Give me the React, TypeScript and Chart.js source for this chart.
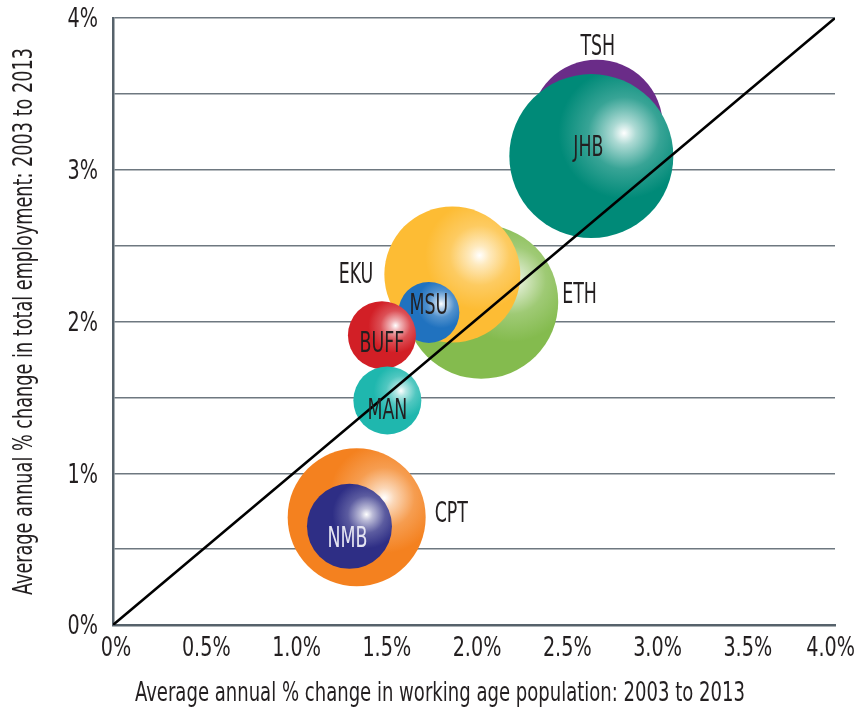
import React, { useEffect, useRef } from 'react';
import { Chart, registerables } from 'chart.js';

Chart.register(...registerables);

// ---- data ----
const cities = ['TSH', 'JHB', 'ETH', 'EKU', 'MSU', 'BUFF', 'MAN', 'CPT', 'NMB'];
const popGrowth = [2.68, 2.65, 2.04, 1.88, 1.75, 1.49, 1.52, 1.35, 1.31];
const empGrowth = [3.29, 3.09, 2.13, 2.31, 2.06, 1.91, 1.48, 0.71, 0.65];
const bubbleRadius = [66, 82, 77, 68, 30.5, 34, 34, 69, 42.5];
const parityX = [0, 4];
const parityY = [0, 4];
const xTickLabels = ['0%', '0.5%', '1.0%', '1.5%', '2.0%', '2.5%', '3.0%', '3.5%', '4.0%'];
const yTickLabels = ['0%', '', '1%', '', '2%', '', '3%', '', '4%'];

const xTitle = 'Average annual % change in working age population: 2003 to 2013';
const yTitle = 'Average annual % change in total employment: 2003 to 2013';

// ---- styles ----
const bubbleColors = ['#6a2c88', '#008a78', '#84bb4e', '#fdbc34', '#2072bf', '#d21f26', '#1fb7ae', '#f4811f', '#2e2e85'];
const bubbleHighlight = [false, true, true, true, true, true, true, true, true];
const labelColors = ['#231f20', '#231f20', '#231f20', '#231f20', '#231f20', '#231f20', '#231f20', '#231f20', '#e4e4f2'];
// placement: mode, dx, dy (cap-centre offset)
const labelPlacement: [string, number, number][] = [
  ['above', 1, -15],
  ['center', -3, -10],
  ['right', 4, -9],
  ['left', -11, -2],
  ['center', 0, -9],
  ['center', 0, 7],
  ['center', 0, 8],
  ['right', 9, -5],
  ['center', -2, 10],
];

const FONT = "'DejaVu Sans Condensed', 'Liberation Sans Narrow', sans-serif";
const TEXT = '#231f20';
const GRID = '#6e7880';
const AXIS = '#56626b';

function hexToRgb(h: string) {
  const n = parseInt(h.slice(1), 16);
  return [(n >> 16) & 255, (n >> 8) & 255, n & 255];
}
function mix(h: string, t: number) {
  const [r, g, b] = hexToRgb(h);
  const m = (c: number) => Math.round(c + (255 - c) * t);
  return `rgb(${m(r)},${m(g)},${m(b)})`;
}

function drawCondensed(ctx: any, text: string, left: number, baseline: number, sx: number) {
  ctx.save();
  ctx.translate(left, baseline);
  ctx.scale(sx, 1);
  ctx.textAlign = 'left';
  ctx.fillText(text, 0, 0);
  ctx.restore();
}

const labelPlugin = {
  id: 'bubbleLabels',
  afterDatasetsDraw(chart: any) {
    const meta = chart.getDatasetMeta(1);
    const ctx = chart.ctx;
    const fs = 28;
    const sx = 0.69;
    const cap = fs * 0.729;
    ctx.save();
    ctx.font = `${fs}px ${FONT}`;
    ctx.textBaseline = 'alphabetic';
    meta.data.forEach((el: any, i: number) => {
      const r = el.options.radius;
      const [mode, dx, dy] = labelPlacement[i];
      const text = cities[i];
      const w = ctx.measureText(text).width * sx;
      let y = el.y + dy;
      if (mode === 'above') y = el.y - r + dy;
      let left = el.x + dx - w / 2;
      if (mode === 'left') left = el.x - r + dx - w;
      if (mode === 'right') left = el.x + r + dx;
      ctx.fillStyle = labelColors[i];
      drawCondensed(ctx, text, left, y + cap / 2, sx);
    });
    ctx.restore();
  },
};

const axisTextPlugin = {
  id: 'axisText',
  afterDraw(chart: any) {
    const ctx = chart.ctx;
    const fs = 26;
    const cap = fs * 0.729;
    const sx = 0.82;
    const xs = chart.scales.x;
    const ys = chart.scales.y;
    const ca = chart.chartArea;
    ctx.save();
    ctx.font = `${fs}px ${FONT}`;
    ctx.fillStyle = TEXT;
    ctx.textBaseline = 'alphabetic';
    // tick labels
    xs.ticks.forEach((t: any, i: number) => {
      const label = xTickLabels[i] || '';
      const px = xs.getPixelForValue(t.value);
      const w = ctx.measureText(label).width * sx;
      let left = px - w / 2 + 3;
      if (left + w > chart.width - 4) left = chart.width - 4 - w;
      drawCondensed(ctx, label, left, ca.bottom + 22 + cap / 2, sx);
    });
    ys.ticks.forEach((t: any, i: number) => {
      const label = yTickLabels[i] || '';
      if (!label) return;
      const py = ys.getPixelForValue(t.value);
      const w = ctx.measureText(label).width * sx;
      drawCondensed(ctx, label, ca.left - 15 - w, py + cap / 2, sx);
    });
    // x title
    const wx = ctx.measureText(xTitle).width;
    const targetX = 610;
    drawCondensed(ctx, xTitle, 440 - targetX / 2, 692 + cap / 2, targetX / wx);
    // y title
    const wy = ctx.measureText(yTitle).width;
    const targetY = 547;
    const cy = (ca.top + ca.bottom) / 2;
    ctx.save();
    ctx.translate(23 + cap / 2, cy + targetY / 2);
    ctx.rotate(-Math.PI / 2);
    ctx.scale(targetY / wy, 1);
    ctx.fillText(yTitle, 0, 0);
    ctx.restore();
    ctx.restore();
  },
};

export default function App() {
  const ref = useRef<HTMLCanvasElement>(null);
  useEffect(() => {
    if (!ref.current) return;
    const bubbleData = cities.map((_, i) => ({ x: popGrowth[i], y: empGrowth[i], r: bubbleRadius[i] }));
    const lineData = parityX.map((x, i) => ({ x, y: parityY[i] }));
    const chart = new Chart(ref.current, {
      type: 'bubble',
      data: {
        datasets: [
          {
            type: 'line',
            label: 'Parity',
            data: lineData,
            borderColor: '#000000',
            borderWidth: 2.5,
            pointRadius: 0,
            fill: false,
            order: 0,
          } as any,
          {
            label: 'Cities',
            data: bubbleData,
            borderWidth: 0,
            order: 1,
            clip: false,
            backgroundColor: (c: any) => {
              const i = c.dataIndex;
              if (i === undefined) return bubbleColors[0];
              const base = bubbleColors[i];
              if (!bubbleHighlight[i]) return base;
              const chart = c.chart;
              const xs = chart.scales && chart.scales.x;
              const ys = chart.scales && chart.scales.y;
              if (!xs || !ys) return base;
              const cx = xs.getPixelForValue(popGrowth[i]);
              const cy = ys.getPixelForValue(empGrowth[i]);
              const r = bubbleRadius[i];
              if (!isFinite(cx) || !isFinite(cy)) return base;
              const hx = cx + 0.4 * r;
              const hy = cy - 0.28 * r;
              const g = chart.ctx.createRadialGradient(hx, hy, 0, hx, hy, 0.8 * r);
              g.addColorStop(0, '#ffffff');
              g.addColorStop(0.18, mix(base, 0.68));
              g.addColorStop(0.55, mix(base, 0.22));
              g.addColorStop(1, base);
              return g;
            },
          },
        ],
      },
      options: {
        responsive: false,
        animation: false,
        events: [],
        layout: { autoPadding: false, padding: { top: 18, right: 24, left: 0, bottom: 0 } },
        plugins: {
          legend: { display: false },
          tooltip: { enabled: false },
        },
        scales: {
          x: {
            type: 'linear',
            min: 0,
            max: 4,
            grid: { display: false, drawTicks: false },
            border: { display: true, color: AXIS, width: 2.5 },
            ticks: { stepSize: 0.5, display: false },
            afterFit: (s: any) => {
              s.height = 86;
            },
          },
          y: {
            type: 'linear',
            min: 0,
            max: 4,
            z: 1,
            grid: { display: true, drawTicks: false, color: GRID, lineWidth: 1.5 },
            border: { display: true, color: AXIS, width: 2.5 },
            ticks: { stepSize: 0.5, display: false },
            afterFit: (s: any) => {
              s.width = 113;
            },
          },
        },
      },
      plugins: [labelPlugin, axisTextPlugin],
    } as any);
    return () => chart.destroy();
  }, []);
  return (
    <div style={{ position: 'absolute', left: 0, top: 0, width: 859, height: 711, background: '#ffffff' }}>
      <canvas ref={ref} width={859} height={711} style={{ display: 'block', width: 859, height: 711 }} />
    </div>
  );
}
